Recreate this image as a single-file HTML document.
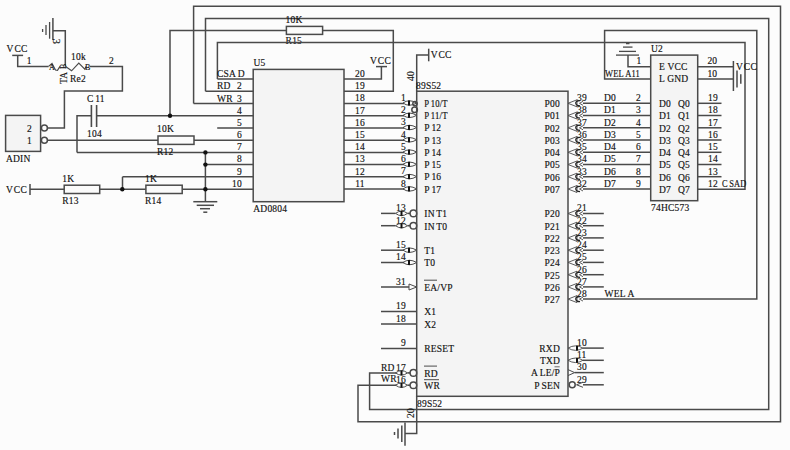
<!DOCTYPE html>
<html><head><meta charset="utf-8"><style>
html,body{margin:0;padding:0;background:#fcfcfc;overflow:hidden;}
svg{display:block;}
text{font-family:"Liberation Serif",serif;font-size:9.5px;letter-spacing:0.2px;fill:#111;stroke:#111;stroke-width:0.15px;}
text.s{font-size:8px;}
</style></head><body>
<svg width="790" height="450" viewBox="0 0 790 450">
<rect x="0" y="0" width="790" height="450" fill="#fcfcfc"/>
<g stroke="#4a4a4a" stroke-width="1.5" fill="none">
<path d="M193.6 103.5 V6.2 H780.5 V421.7 H358 V385.3 H396" />
<path d="M205.5 91.2 V18.4 H768.7 V409.6 H369.6 V373 H396" />
<path d="M170 115.7 V30.4 H286.4" />
<rect x="286.4" y="26.4" width="36.2" height="8.0" fill="#fbfbfb"/>
<text x="285.6" y="23.0" >10K</text>
<text x="285.6" y="44.4" >R15</text>
<path d="M322.6 30.4 H393.3 V91.2 H344" />
<path d="M217.4 79 V42.6 H745 V189.3 H697.7" />
<path d="M650.7 79 H604.6 V30.6 H756.8 V299 H583" />
<rect x="253.2" y="69.4" width="90.8" height="132.3" fill="#f4f4f4"/>
<line x1="217.4" y1="79.0" x2="253.2" y2="79.0"/>
<line x1="205.5" y1="91.2" x2="253.2" y2="91.2"/>
<line x1="193.6" y1="103.5" x2="253.2" y2="103.5"/>
<line x1="96.6" y1="115.7" x2="253.2" y2="115.7"/>
<line x1="217.2" y1="127.9" x2="253.2" y2="127.9"/>
<line x1="47.4" y1="140.2" x2="158.0" y2="140.2"/>
<line x1="194.0" y1="140.2" x2="253.2" y2="140.2"/>
<line x1="77.0" y1="152.4" x2="253.2" y2="152.4"/>
<line x1="205.4" y1="164.6" x2="253.2" y2="164.6"/>
<line x1="122.5" y1="176.8" x2="253.2" y2="176.8"/>
<line x1="182.5" y1="189.3" x2="253.2" y2="189.3"/>
<text x="217.0" y="77.0" >CSA<tspan dx="1.6">D</tspan></text>
<text x="217.0" y="89.3" >RD</text>
<text x="242.0" y="89.3" text-anchor="end" >2</text>
<text x="217.0" y="101.5" >WR</text>
<text x="242.0" y="101.5" text-anchor="end" >3</text>
<text x="242.0" y="113.5" text-anchor="end" >4</text>
<text x="242.0" y="125.7" text-anchor="end" >5</text>
<text x="242.0" y="138.0" text-anchor="end" >6</text>
<text x="242.0" y="150.2" text-anchor="end" >7</text>
<text x="242.0" y="162.4" text-anchor="end" >8</text>
<text x="242.0" y="174.6" text-anchor="end" >9</text>
<text x="242.0" y="186.9" text-anchor="end" >10</text>
<path d="M344 79.0 H381.4 V66.6" />
<line x1="376.0" y1="66.6" x2="387.0" y2="66.6"/>
<text x="370.0" y="64.4" >V<tspan dx="0.8">CC</tspan></text>
<line x1="344.0" y1="103.5" x2="404.0" y2="103.5"/>
<line x1="344.0" y1="115.7" x2="404.0" y2="115.7"/>
<line x1="344.0" y1="127.9" x2="404.0" y2="127.9"/>
<line x1="344.0" y1="140.2" x2="404.0" y2="140.2"/>
<line x1="344.0" y1="152.4" x2="404.0" y2="152.4"/>
<line x1="344.0" y1="164.6" x2="404.0" y2="164.6"/>
<line x1="344.0" y1="176.8" x2="404.0" y2="176.8"/>
<line x1="344.0" y1="189.1" x2="404.0" y2="189.1"/>
<text x="360.0" y="76.8" text-anchor="middle" >20</text>
<text x="360.0" y="89.0" text-anchor="middle" >19</text>
<text x="360.0" y="101.3" text-anchor="middle" >18</text>
<text x="360.0" y="113.5" text-anchor="middle" >17</text>
<text x="360.0" y="125.7" text-anchor="middle" >16</text>
<text x="360.0" y="138.0" text-anchor="middle" >15</text>
<text x="360.0" y="150.2" text-anchor="middle" >14</text>
<text x="360.0" y="162.4" text-anchor="middle" >13</text>
<text x="360.0" y="174.6" text-anchor="middle" >12</text>
<text x="360.0" y="186.9" text-anchor="middle" >11</text>
<text x="253.5" y="66.0" >U5</text>
<text x="253.3" y="212.0" >AD0804</text>
<line x1="52.9" y1="18.0" x2="52.9" y2="40.0"/>
<line x1="49.6" y1="22.0" x2="49.6" y2="38.7" stroke-width="1.3"/>
<line x1="46.0" y1="25.0" x2="46.0" y2="35.0" stroke-width="1.3"/>
<line x1="42.6" y1="29.0" x2="42.6" y2="32.0" stroke-width="1.3"/>
<path d="M53 30.7 H65.3 V66.5" />
<text x="0.0" y="0.0" transform="translate(52.5,38.5) rotate(90)" style="font-size:11px">3</text>
<text x="6.6" y="51.6" >V<tspan dx="0.8">CC</tspan></text>
<line x1="12.2" y1="55.4" x2="23.1" y2="55.4"/>
<path d="M17.7 55.4 V66.5 H48.6" />
<text x="26.8" y="63.8" >1</text>
<path d="M48.6 66.4 L52 63.5 L55.5 70 L57.5 70.4 L60 66.4 M65.6 66.4 L71.6 70.8 L78.8 63.2 L84.8 69.2 L86 66.4" fill="none" stroke-width="1.2"/>
<text x="49.0" y="70.0" class="s" >A</text>
<text x="0.0" y="0.0" class="s" transform="translate(66.3,69) rotate(-90)">B</text>
<text x="85.0" y="70.0" class="s" >B</text>
<path d="M90 66.5 H122.4 V91 H64.4 V128 H47.4" />
<text x="71.0" y="60.0" >10k</text>
<text x="109.0" y="64.0" >2</text>
<text x="70.0" y="82.0" >Re2</text>
<text x="0.0" y="0.0" transform="translate(66.5,84) rotate(-90)">TA</text>
<line x1="91.4" y1="105.0" x2="91.4" y2="127.0" stroke-width="1.6"/>
<line x1="96.6" y1="105.0" x2="96.6" y2="127.0" stroke-width="1.6"/>
<path d="M91.4 115.7 H77 V152.4" />
<text x="87.0" y="102.0" >C<tspan dx="1.6">11</tspan></text>
<text x="87.0" y="137.0" >104</text>
<rect x="5.6" y="115.4" width="35.0" height="36.0" fill="#f4f4f4"/>
<text x="27.0" y="131.6" >2</text>
<text x="27.0" y="143.6" >1</text>
<text x="6.0" y="161.6" >ADIN</text>
<circle cx="44.4" cy="128.0" r="3" fill="none"/>
<circle cx="44.4" cy="140.2" r="3" fill="none"/>
<rect x="158.0" y="136.0" width="36.0" height="8.4" fill="#fbfbfb"/>
<text x="157.0" y="132.4" >10K</text>
<text x="157.0" y="155.2" >R12</text>
<text x="6.0" y="193.0" >V<tspan dx="0.8">CC</tspan></text>
<line x1="30.0" y1="184.0" x2="30.0" y2="195.0"/>
<line x1="30.0" y1="189.3" x2="64.2" y2="189.3"/>
<rect x="64.2" y="185.2" width="35.5" height="8.3" fill="#fbfbfb"/>
<line x1="99.7" y1="189.3" x2="145.9" y2="189.3"/>
<rect x="145.9" y="185.2" width="36.3" height="8.3" fill="#fbfbfb"/>
<path d="M122.5 189.3 V176.8" />
<text x="62.3" y="181.8" >1K</text>
<text x="62.3" y="203.6" >R13</text>
<text x="145.0" y="181.8" >1K</text>
<text x="145.0" y="203.6" >R14</text>
<path d="M205.4 152.4 V201.7" />
<line x1="193.3" y1="201.7" x2="217.3" y2="201.7"/>
<line x1="196.7" y1="205.3" x2="214.0" y2="205.3"/>
<line x1="200.0" y1="208.7" x2="210.0" y2="208.7"/>
<line x1="203.3" y1="212.2" x2="207.3" y2="212.2"/>
<circle cx="170.0" cy="115.7" r="2.2" fill="#111" stroke="none"/>
<circle cx="205.4" cy="152.4" r="2.2" fill="#111" stroke="none"/>
<circle cx="205.4" cy="164.6" r="2.2" fill="#111" stroke="none"/>
<circle cx="205.4" cy="189.3" r="2.2" fill="#111" stroke="none"/>
<circle cx="122.3" cy="189.3" r="2.2" fill="#111" stroke="none"/>
<rect x="416.7" y="91.2" width="151.3" height="305.1" fill="#f4f4f4"/>
<path d="M416.7 91.2 V55 H428.7" />
<line x1="428.7" y1="48.7" x2="428.7" y2="61.3"/>
<text x="430.7" y="58.0" >V<tspan dx="0.8">CC</tspan></text>
<text x="0.0" y="0.0" transform="translate(413.5,81) rotate(-90)">40</text>
<text x="416.0" y="88.7" >89S52</text>
<text x="417.0" y="407.0" >89S52</text>
<path d="M416.7 396.3 V433.5 H405" />
<line x1="405.0" y1="422.5" x2="405.0" y2="445.7"/>
<line x1="401.8" y1="425.5" x2="401.8" y2="442.0"/>
<line x1="398.0" y1="428.6" x2="398.0" y2="438.4"/>
<line x1="394.5" y1="432.0" x2="394.5" y2="435.0"/>
<text x="0.0" y="0.0" transform="translate(413.5,418) rotate(-90)">20</text>
<text x="424.3" y="106.8" textLength="23.4" lengthAdjust="spacingAndGlyphs">P<tspan dx="1.6">10/T</tspan></text>
<text x="406.0" y="100.8" text-anchor="end" >1</text>
<path d="M403 103.0 Q409 98.5 416.7 103.0 Q409 107.5 403 103.0" fill="none" stroke-width="1"/>
<rect x="408" y="100.5" width="2" height="5" fill="#111" stroke="none"/>
<circle cx="415.0" cy="103.6" r="2.2" fill="none"/>
<circle cx="414.6" cy="109.8" r="2.8" fill="none"/>
<text x="424.3" y="119.1" textLength="23.4" lengthAdjust="spacingAndGlyphs">P<tspan dx="1.6">11/T</tspan></text>
<text x="406.0" y="113.1" text-anchor="end" >2</text>
<path d="M403 115.3 Q409 110.8 416.7 115.3 Q409 119.8 403 115.3" fill="none" stroke-width="1"/>
<rect x="408" y="112.8" width="2" height="5" fill="#111" stroke="none"/>
<text x="424.3" y="131.3" >P<tspan dx="1.6">12</tspan></text>
<text x="406.0" y="125.3" text-anchor="end" >3</text>
<path d="M403 127.5 Q409 123.0 416.7 127.5 Q409 132.0 403 127.5" fill="none" stroke-width="1"/>
<rect x="408" y="125.0" width="2" height="5" fill="#111" stroke="none"/>
<text x="424.3" y="143.6" >P<tspan dx="1.6">13</tspan></text>
<text x="406.0" y="137.6" text-anchor="end" >4</text>
<path d="M403 139.8 Q409 135.3 416.7 139.8 Q409 144.3 403 139.8" fill="none" stroke-width="1"/>
<rect x="408" y="137.3" width="2" height="5" fill="#111" stroke="none"/>
<text x="424.3" y="155.9" >P<tspan dx="1.6">14</tspan></text>
<text x="406.0" y="149.9" text-anchor="end" >5</text>
<path d="M403 152.1 Q409 147.6 416.7 152.1 Q409 156.6 403 152.1" fill="none" stroke-width="1"/>
<rect x="408" y="149.6" width="2" height="5" fill="#111" stroke="none"/>
<text x="424.3" y="168.2" >P<tspan dx="1.6">15</tspan></text>
<text x="406.0" y="162.2" text-anchor="end" >6</text>
<path d="M403 164.3 Q409 159.8 416.7 164.3 Q409 168.8 403 164.3" fill="none" stroke-width="1"/>
<rect x="408" y="161.8" width="2" height="5" fill="#111" stroke="none"/>
<text x="424.3" y="180.4" >P<tspan dx="1.6">16</tspan></text>
<text x="406.0" y="174.4" text-anchor="end" >7</text>
<path d="M403 176.6 Q409 172.1 416.7 176.6 Q409 181.1 403 176.6" fill="none" stroke-width="1"/>
<rect x="408" y="174.1" width="2" height="5" fill="#111" stroke="none"/>
<text x="424.3" y="192.7" >P<tspan dx="1.6">17</tspan></text>
<text x="406.0" y="186.7" text-anchor="end" >8</text>
<path d="M403 188.9 Q409 184.4 416.7 188.9 Q409 193.4 403 188.9" fill="none" stroke-width="1"/>
<rect x="408" y="186.4" width="2" height="5" fill="#111" stroke="none"/>
<text x="424.3" y="217.2" >IN<tspan dx="1.6">T1</tspan></text>
<text x="406.0" y="211.2" text-anchor="end" >13</text>
<line x1="381.0" y1="213.4" x2="395.5" y2="213.4"/>
<path d="M395.5 213.4 Q401.5 208.9 407.5 213.4 Q401.5 217.9 395.5 213.4" fill="none" stroke-width="1"/>
<rect x="400.5" y="210.9" width="2" height="5" fill="#111" stroke="none"/>
<line x1="407.5" y1="213.4" x2="410.0" y2="213.4" stroke-width="1.6"/>
<circle cx="413.4" cy="213.4" r="3.3" fill="none"/>
<text x="424.3" y="229.5" >IN<tspan dx="1.6">T0</tspan></text>
<text x="406.0" y="223.5" text-anchor="end" >12</text>
<line x1="381.0" y1="225.7" x2="395.5" y2="225.7"/>
<path d="M395.5 225.7 Q401.5 221.2 407.5 225.7 Q401.5 230.2 395.5 225.7" fill="none" stroke-width="1"/>
<rect x="400.5" y="223.2" width="2" height="5" fill="#111" stroke="none"/>
<line x1="407.5" y1="225.7" x2="410.0" y2="225.7" stroke-width="1.6"/>
<circle cx="413.4" cy="225.7" r="3.3" fill="none"/>
<text x="424.3" y="254.0" >T1</text>
<text x="406.0" y="248.0" text-anchor="end" >15</text>
<line x1="381.0" y1="250.2" x2="404.0" y2="250.2"/>
<path d="M403 250.2 Q409 245.7 416.7 250.2 Q409 254.7 403 250.2" fill="none" stroke-width="1"/>
<rect x="408" y="247.7" width="2" height="5" fill="#111" stroke="none"/>
<text x="424.3" y="266.3" >T0</text>
<text x="406.0" y="260.3" text-anchor="end" >14</text>
<line x1="381.0" y1="262.5" x2="404.0" y2="262.5"/>
<path d="M403 262.5 Q409 258.0 416.7 262.5 Q409 267.0 403 262.5" fill="none" stroke-width="1"/>
<rect x="408" y="260.0" width="2" height="5" fill="#111" stroke="none"/>
<text x="424.3" y="290.8" >EA/VP</text>
<text x="406.0" y="284.8" text-anchor="end" >31</text>
<line x1="381.0" y1="287.0" x2="409.0" y2="287.0"/>
<path d="M409 284.0 L416.7 287.0 L409 290.0 Z" fill="none" stroke-width="1"/>
<text x="424.3" y="315.4" >X1</text>
<text x="406.0" y="309.4" text-anchor="end" >19</text>
<line x1="381.0" y1="311.6" x2="416.7" y2="311.6"/>
<text x="424.3" y="327.7" >X2</text>
<text x="406.0" y="321.7" text-anchor="end" >18</text>
<line x1="381.0" y1="323.9" x2="416.7" y2="323.9"/>
<text x="424.3" y="352.2" >RESET</text>
<text x="406.0" y="346.2" text-anchor="end" >9</text>
<line x1="381.0" y1="348.4" x2="416.7" y2="348.4"/>
<text x="424.3" y="376.7" >RD</text>
<text x="406.0" y="370.7" text-anchor="end" >17</text>
<path d="M395.5 372.9 Q401.5 368.4 407.5 372.9 Q401.5 377.4 395.5 372.9" fill="none" stroke-width="1"/>
<rect x="400.5" y="370.4" width="2" height="5" fill="#111" stroke="none"/>
<line x1="407.5" y1="372.9" x2="410.0" y2="372.9" stroke-width="1.6"/>
<circle cx="413.4" cy="372.9" r="3.3" fill="none"/>
<text x="424.3" y="389.0" >WR</text>
<text x="406.0" y="383.0" text-anchor="end" >16</text>
<path d="M395.5 385.2 Q401.5 380.7 407.5 385.2 Q401.5 389.7 395.5 385.2" fill="none" stroke-width="1"/>
<rect x="400.5" y="382.7" width="2" height="5" fill="#111" stroke="none"/>
<line x1="407.5" y1="385.2" x2="410.0" y2="385.2" stroke-width="1.6"/>
<circle cx="413.4" cy="385.2" r="3.3" fill="none"/>
<line x1="424.0" y1="280.2" x2="437.0" y2="280.2" stroke-width="1"/>
<line x1="424.0" y1="366.1" x2="437.0" y2="366.1" stroke-width="1"/>
<line x1="424.0" y1="379.7" x2="439.0" y2="379.7" stroke-width="1"/>
<line x1="554.5" y1="366.8" x2="559.7" y2="366.8" stroke-width="0.8"/>
<text x="381.0" y="370.7" >RD</text>
<text x="381.0" y="381.7" >WR</text>
<text x="560.0" y="107.1" text-anchor="end" >P00</text>
<text x="577.0" y="101.1" >39</text>
<path d="M568 103.3 L577 99.8 L577 106.8 Z" fill="none" stroke-width="0.9"/>
<path d="M580 100.7 Q575.3 101.1 575.8 103.3 Q576 105.7 580 105.9" fill="none" stroke="#222" stroke-width="1.3"/>
<path d="M583 101.3 L579.5 103.3 L583 105.3" fill="none" stroke-width="0.9"/>
<line x1="583.0" y1="103.3" x2="650.7" y2="103.3"/>
<text x="604.0" y="101.1" >D0</text>
<text x="641.0" y="101.1" text-anchor="end" >2</text>
<text x="560.0" y="119.3" text-anchor="end" >P01</text>
<text x="577.0" y="113.3" >38</text>
<path d="M568 115.5 L577 112.0 L577 119.0 Z" fill="none" stroke-width="0.9"/>
<path d="M580 112.9 Q575.3 113.3 575.8 115.5 Q576 117.9 580 118.1" fill="none" stroke="#222" stroke-width="1.3"/>
<path d="M583 113.5 L579.5 115.5 L583 117.5" fill="none" stroke-width="0.9"/>
<line x1="583.0" y1="115.5" x2="650.7" y2="115.5"/>
<text x="604.0" y="113.3" >D1</text>
<text x="641.0" y="113.3" text-anchor="end" >3</text>
<text x="560.0" y="131.6" text-anchor="end" >P02</text>
<text x="577.0" y="125.6" >37</text>
<path d="M568 127.8 L577 124.3 L577 131.3 Z" fill="none" stroke-width="0.9"/>
<path d="M580 125.2 Q575.3 125.6 575.8 127.8 Q576 130.2 580 130.4" fill="none" stroke="#222" stroke-width="1.3"/>
<path d="M583 125.8 L579.5 127.8 L583 129.8" fill="none" stroke-width="0.9"/>
<line x1="583.0" y1="127.8" x2="650.7" y2="127.8"/>
<text x="604.0" y="125.6" >D2</text>
<text x="641.0" y="125.6" text-anchor="end" >4</text>
<text x="560.0" y="143.8" text-anchor="end" >P03</text>
<text x="577.0" y="137.8" >36</text>
<path d="M568 140.0 L577 136.5 L577 143.5 Z" fill="none" stroke-width="0.9"/>
<path d="M580 137.4 Q575.3 137.8 575.8 140.0 Q576 142.4 580 142.6" fill="none" stroke="#222" stroke-width="1.3"/>
<path d="M583 138.0 L579.5 140.0 L583 142.0" fill="none" stroke-width="0.9"/>
<line x1="583.0" y1="140.0" x2="650.7" y2="140.0"/>
<text x="604.0" y="137.8" >D3</text>
<text x="641.0" y="137.8" text-anchor="end" >5</text>
<text x="560.0" y="156.1" text-anchor="end" >P04</text>
<text x="577.0" y="150.1" >35</text>
<path d="M568 152.3 L577 148.8 L577 155.8 Z" fill="none" stroke-width="0.9"/>
<path d="M580 149.7 Q575.3 150.1 575.8 152.3 Q576 154.7 580 154.9" fill="none" stroke="#222" stroke-width="1.3"/>
<path d="M583 150.3 L579.5 152.3 L583 154.3" fill="none" stroke-width="0.9"/>
<line x1="583.0" y1="152.3" x2="650.7" y2="152.3"/>
<text x="604.0" y="150.1" >D4</text>
<text x="641.0" y="150.1" text-anchor="end" >6</text>
<text x="560.0" y="168.3" text-anchor="end" >P05</text>
<text x="577.0" y="162.3" >34</text>
<path d="M568 164.5 L577 161.0 L577 168.0 Z" fill="none" stroke-width="0.9"/>
<path d="M580 161.9 Q575.3 162.3 575.8 164.5 Q576 166.9 580 167.1" fill="none" stroke="#222" stroke-width="1.3"/>
<path d="M583 162.5 L579.5 164.5 L583 166.5" fill="none" stroke-width="0.9"/>
<line x1="583.0" y1="164.5" x2="650.7" y2="164.5"/>
<text x="604.0" y="162.3" >D5</text>
<text x="641.0" y="162.3" text-anchor="end" >7</text>
<text x="560.0" y="180.5" text-anchor="end" >P06</text>
<text x="577.0" y="174.5" >33</text>
<path d="M568 176.7 L577 173.2 L577 180.2 Z" fill="none" stroke-width="0.9"/>
<path d="M580 174.1 Q575.3 174.5 575.8 176.7 Q576 179.1 580 179.3" fill="none" stroke="#222" stroke-width="1.3"/>
<path d="M583 174.7 L579.5 176.7 L583 178.7" fill="none" stroke-width="0.9"/>
<line x1="583.0" y1="176.7" x2="650.7" y2="176.7"/>
<text x="604.0" y="174.5" >D6</text>
<text x="641.0" y="174.5" text-anchor="end" >8</text>
<text x="560.0" y="192.8" text-anchor="end" >P07</text>
<text x="577.0" y="186.8" >32</text>
<path d="M568 189.0 L577 185.5 L577 192.5 Z" fill="none" stroke-width="0.9"/>
<path d="M580 186.4 Q575.3 186.8 575.8 189.0 Q576 191.4 580 191.6" fill="none" stroke="#222" stroke-width="1.3"/>
<path d="M583 187.0 L579.5 189.0 L583 191.0" fill="none" stroke-width="0.9"/>
<line x1="583.0" y1="189.0" x2="650.7" y2="189.0"/>
<text x="604.0" y="186.8" >D7</text>
<text x="641.0" y="186.8" text-anchor="end" >9</text>
<text x="560.0" y="217.3" text-anchor="end" >P20</text>
<text x="577.0" y="211.3" >21</text>
<path d="M568 213.5 L577 210.0 L577 217.0 Z" fill="none" stroke-width="0.9"/>
<path d="M580 210.9 Q575.3 211.3 575.8 213.5 Q576 215.9 580 216.1" fill="none" stroke="#222" stroke-width="1.3"/>
<path d="M583 211.5 L579.5 213.5 L583 215.5" fill="none" stroke-width="0.9"/>
<line x1="583.0" y1="213.5" x2="603.8" y2="213.5"/>
<text x="560.0" y="229.5" text-anchor="end" >P21</text>
<text x="577.0" y="223.5" >22</text>
<path d="M568 225.7 L577 222.2 L577 229.2 Z" fill="none" stroke-width="0.9"/>
<path d="M580 223.1 Q575.3 223.5 575.8 225.7 Q576 228.1 580 228.3" fill="none" stroke="#222" stroke-width="1.3"/>
<path d="M583 223.7 L579.5 225.7 L583 227.7" fill="none" stroke-width="0.9"/>
<line x1="583.0" y1="225.7" x2="603.8" y2="225.7"/>
<text x="560.0" y="241.7" text-anchor="end" >P22</text>
<text x="577.0" y="235.7" >23</text>
<path d="M568 237.9 L577 234.4 L577 241.4 Z" fill="none" stroke-width="0.9"/>
<path d="M580 235.3 Q575.3 235.7 575.8 237.9 Q576 240.3 580 240.5" fill="none" stroke="#222" stroke-width="1.3"/>
<path d="M583 235.9 L579.5 237.9 L583 239.9" fill="none" stroke-width="0.9"/>
<line x1="583.0" y1="237.9" x2="603.8" y2="237.9"/>
<text x="560.0" y="254.0" text-anchor="end" >P23</text>
<text x="577.0" y="248.0" >24</text>
<path d="M568 250.2 L577 246.7 L577 253.7 Z" fill="none" stroke-width="0.9"/>
<path d="M580 247.6 Q575.3 248.0 575.8 250.2 Q576 252.6 580 252.8" fill="none" stroke="#222" stroke-width="1.3"/>
<path d="M583 248.2 L579.5 250.2 L583 252.2" fill="none" stroke-width="0.9"/>
<line x1="583.0" y1="250.2" x2="603.8" y2="250.2"/>
<text x="560.0" y="266.2" text-anchor="end" >P24</text>
<text x="577.0" y="260.2" >25</text>
<path d="M568 262.4 L577 258.9 L577 265.9 Z" fill="none" stroke-width="0.9"/>
<path d="M580 259.8 Q575.3 260.2 575.8 262.4 Q576 264.8 580 265.0" fill="none" stroke="#222" stroke-width="1.3"/>
<path d="M583 260.4 L579.5 262.4 L583 264.4" fill="none" stroke-width="0.9"/>
<line x1="583.0" y1="262.4" x2="603.8" y2="262.4"/>
<text x="560.0" y="278.5" text-anchor="end" >P25</text>
<text x="577.0" y="272.5" >26</text>
<path d="M568 274.7 L577 271.2 L577 278.2 Z" fill="none" stroke-width="0.9"/>
<path d="M580 272.1 Q575.3 272.5 575.8 274.7 Q576 277.1 580 277.3" fill="none" stroke="#222" stroke-width="1.3"/>
<path d="M583 272.7 L579.5 274.7 L583 276.7" fill="none" stroke-width="0.9"/>
<line x1="583.0" y1="274.7" x2="603.8" y2="274.7"/>
<text x="560.0" y="290.7" text-anchor="end" >P26</text>
<text x="577.0" y="284.7" >27</text>
<path d="M568 286.9 L577 283.4 L577 290.4 Z" fill="none" stroke-width="0.9"/>
<path d="M580 284.3 Q575.3 284.7 575.8 286.9 Q576 289.3 580 289.5" fill="none" stroke="#222" stroke-width="1.3"/>
<path d="M583 284.9 L579.5 286.9 L583 288.9" fill="none" stroke-width="0.9"/>
<line x1="583.0" y1="286.9" x2="603.8" y2="286.9"/>
<text x="560.0" y="302.9" text-anchor="end" >P27</text>
<text x="577.0" y="296.9" >28</text>
<path d="M568 299.1 L577 295.6 L577 302.6 Z" fill="none" stroke-width="0.9"/>
<path d="M580 296.5 Q575.3 296.9 575.8 299.1 Q576 301.5 580 301.7" fill="none" stroke="#222" stroke-width="1.3"/>
<path d="M583 297.1 L579.5 299.1 L583 301.1" fill="none" stroke-width="0.9"/>
<text x="560.0" y="351.9" text-anchor="end" >RXD</text>
<text x="577.0" y="345.9" >10</text>
<path d="M568 348.1 Q575.5 343.6 583 348.1 Q575.5 352.6 568 348.1" fill="none" stroke-width="0.9"/>
<rect x="576" y="345.6" width="2" height="5" fill="#111" stroke="none"/>
<line x1="583.0" y1="348.1" x2="603.8" y2="348.1"/>
<text x="560.0" y="364.1" text-anchor="end" >TXD</text>
<text x="577.0" y="358.1" >11</text>
<path d="M568 360.3 Q575.5 355.8 583 360.3 Q575.5 364.8 568 360.3" fill="none" stroke-width="0.9"/>
<rect x="576" y="357.8" width="2" height="5" fill="#111" stroke="none"/>
<line x1="583.0" y1="360.3" x2="603.8" y2="360.3"/>
<text x="560.0" y="376.4" text-anchor="end" >A<tspan dx="1.6">LE/P</tspan></text>
<text x="577.0" y="370.4" >30</text>
<path d="M568 369.6 L574.6 372.6 L568 375.6" fill="none" stroke-width="1"/>
<line x1="574.6" y1="372.6" x2="603.8" y2="372.6"/>
<text x="560.0" y="388.6" text-anchor="end" >P<tspan dx="1.6">SEN</tspan></text>
<text x="577.0" y="382.6" >29</text>
<circle cx="572.2" cy="384.8" r="3" fill="none"/>
<path d="M583 382.3 L576.5 384.8 L583 387.3" fill="none" stroke-width="1"/>
<line x1="583.0" y1="384.8" x2="603.8" y2="384.8"/>
<text x="604.6" y="296.9" >WEL<tspan dx="1.6">A</tspan></text>
<rect x="650.7" y="55.1" width="47.0" height="145.6" fill="#f4f4f4"/>
<path d="M628 55.1 V66.7 H650.7" />
<line x1="616.0" y1="55.1" x2="639.0" y2="55.1" stroke-width="1.3"/>
<line x1="619.0" y1="51.4" x2="636.0" y2="51.4" stroke-width="1.3"/>
<line x1="623.0" y1="47.1" x2="632.5" y2="47.1" stroke-width="1.3"/>
<line x1="626.0" y1="43.6" x2="629.5" y2="43.6" stroke-width="1.3"/>
<text x="636.5" y="64.2" >1</text>
<text x="605.0" y="76.6" textLength="35" lengthAdjust="spacingAndGlyphs">WEL<tspan dx="1.6">A11</tspan></text>
<text x="651.0" y="51.7" >U2</text>
<text x="651.0" y="211.3" >74HC573</text>
<text x="659.0" y="70.3" >E VCC</text>
<text x="659.0" y="82.3" >L GND</text>
<line x1="697.7" y1="66.7" x2="733.4" y2="66.7"/>
<line x1="697.7" y1="79.0" x2="733.4" y2="79.0"/>
<line x1="733.4" y1="61.0" x2="733.4" y2="91.0"/>
<line x1="737.0" y1="70.6" x2="737.0" y2="87.4"/>
<line x1="740.8" y1="74.2" x2="740.8" y2="83.8"/>
<text x="736.0" y="70.0" >V<tspan dx="0.8">CC</tspan></text>
<text x="707.4" y="64.2" >20</text>
<text x="707.4" y="76.6" >10</text>
<text x="659.0" y="107.1" >D0</text>
<text x="678.0" y="107.1" >Q0</text>
<line x1="697.7" y1="103.3" x2="721.5" y2="103.3"/>
<text x="708.0" y="101.1" >19</text>
<text x="659.0" y="119.3" >D1</text>
<text x="678.0" y="119.3" >Q1</text>
<line x1="697.7" y1="115.5" x2="721.5" y2="115.5"/>
<text x="708.0" y="113.3" >18</text>
<text x="659.0" y="131.6" >D2</text>
<text x="678.0" y="131.6" >Q2</text>
<line x1="697.7" y1="127.8" x2="721.5" y2="127.8"/>
<text x="708.0" y="125.6" >17</text>
<text x="659.0" y="143.8" >D3</text>
<text x="678.0" y="143.8" >Q3</text>
<line x1="697.7" y1="140.0" x2="721.5" y2="140.0"/>
<text x="708.0" y="137.8" >16</text>
<text x="659.0" y="156.1" >D4</text>
<text x="678.0" y="156.1" >Q4</text>
<line x1="697.7" y1="152.3" x2="721.5" y2="152.3"/>
<text x="708.0" y="150.1" >15</text>
<text x="659.0" y="168.3" >D5</text>
<text x="678.0" y="168.3" >Q5</text>
<line x1="697.7" y1="164.5" x2="721.5" y2="164.5"/>
<text x="708.0" y="162.3" >14</text>
<text x="659.0" y="180.5" >D6</text>
<text x="678.0" y="180.5" >Q6</text>
<line x1="697.7" y1="176.7" x2="721.5" y2="176.7"/>
<text x="708.0" y="174.5" >13</text>
<text x="659.0" y="192.8" >D7</text>
<text x="678.0" y="192.8" >Q7</text>
<text x="708.0" y="186.8" >12</text>
<text x="722.0" y="187.0" textLength="24.5" lengthAdjust="spacingAndGlyphs">C<tspan dx="1.6">SAD</tspan></text>
</g>
</svg>
</body></html>
